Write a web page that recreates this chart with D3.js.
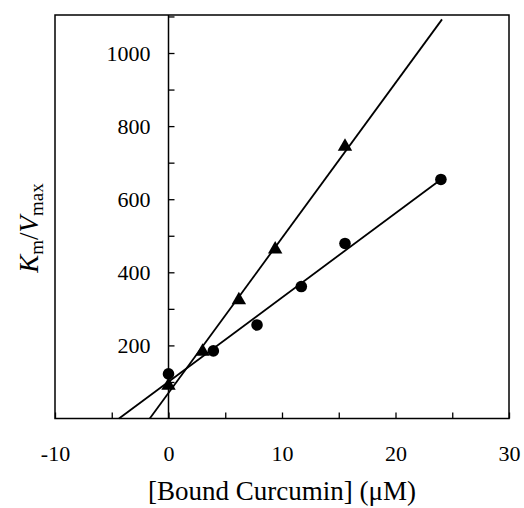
<!DOCTYPE html>
<html><head><meta charset="utf-8">
<script src="https://cdn.jsdelivr.net/npm/d3@7"></script>
<style>body{margin:0;background:#fff}svg{display:block}text{font-family:"Liberation Serif","Times New Roman",serif;fill:#000}</style>
</head><body>
<svg id="chart" width="524" height="508"></svg>
<script>
// Data
const triangleX = [0, 3.0, 6.2, 9.4, 15.55];
const triangleY = [90, 183, 324, 463, 744];
const circleX = [0, 3.95, 7.8, 11.7, 15.55, 24.0];
const circleY = [122, 185, 256, 361, 479, 654];
const triangleFitX = [-1.65, 24.1];
const triangleFitY = [0, 1092];
const circleFitX = [-4.36, 24.0];
const circleFitY = [0, 654];
const xTickValues = [-10, -5, 0, 5, 10, 15, 20, 25, 30];
const xTickLabels = [-10, 0, 10, 20, 30];
const yTickValues = [100, 200, 300, 400, 500, 600, 700, 800, 900, 1000, 1100];
const yTickLabels = [200, 400, 600, 800, 1000];

const svg = d3.select("#chart");
const L = 55, R = 509, T = 15, B = 418.5;
const x = d3.scaleLinear().domain([-10, 30]).range([L, R]);
const y = d3.scaleLinear().domain([0, 1104]).range([B, T]);

// frame
svg.append("rect").attr("x", L).attr("y", T).attr("width", R - L).attr("height", B - T)
  .attr("fill", "none").attr("stroke", "#000").attr("stroke-width", 1.5);

// x axis ticks (inside, pointing up)
const xAxis = d3.axisBottom(x).tickValues(xTickValues).tickSizeInner(-6).tickSizeOuter(0)
  .tickFormat(d => xTickLabels.includes(d) ? d : "");
const gx = svg.append("g").attr("transform", `translate(0,${B})`).call(xAxis);
gx.select(".domain").remove();
gx.selectAll(".tick line").attr("stroke-width", 1.3);
gx.selectAll(".tick text").attr("y", 27).attr("dy", "0.71em").style("font-size", "22px")
  .style("font-family", '"Liberation Serif", serif');

// y axis at x=0, ticks pointing right, labels left
const yAxis = d3.axisRight(y).tickValues(yTickValues).tickSizeInner(6).tickSizeOuter(0)
  .tickFormat(d => yTickLabels.includes(d) ? d : "");
const gy = svg.append("g").attr("transform", `translate(${x(0)},0)`).call(yAxis);
gy.select(".domain").attr("d", `M0,${B}V${T}`).attr("stroke-width", 1.5);
gy.selectAll(".tick line").attr("stroke-width", 1.3);
gy.selectAll(".tick text").attr("x", -18).attr("text-anchor", "end").style("font-size", "22px")
  .style("font-family", '"Liberation Serif", serif');

// fit lines
const line = d3.line().x(d => x(d[0])).y(d => y(d[1]));
svg.append("path").datum(d3.zip(triangleFitX, triangleFitY)).attr("d", line)
  .attr("fill", "none").attr("stroke", "#000").attr("stroke-width", 1.8);
svg.append("path").datum(d3.zip(circleFitX, circleFitY)).attr("d", line)
  .attr("fill", "none").attr("stroke", "#000").attr("stroke-width", 1.8);

// markers
svg.append("g").selectAll("circle").data(d3.zip(circleX, circleY)).join("circle")
  .attr("cx", d => x(d[0])).attr("cy", d => y(d[1])).attr("r", 5.8).attr("fill", "#000");
const tri = d3.symbol().type(d3.symbolTriangle).size(90);
svg.append("g").selectAll("path").data(d3.zip(triangleX, triangleY)).join("path")
  .attr("d", tri).attr("transform", d => `translate(${x(d[0])},${y(d[1])})`).attr("fill", "#000");

// x title
svg.append("text").attr("x", 282).attr("y", 500).attr("text-anchor", "middle")
  .style("font-size", "27px").text("[Bound Curcumin] (\u03bcM)");

// y title
const yt = svg.append("text").attr("transform", "translate(38,228) rotate(-90)")
  .attr("text-anchor", "middle").style("font-size", "27px");
yt.append("tspan").style("font-style", "italic").text("K");
yt.append("tspan").attr("dy", 5).style("font-size", "19px").text("m");
yt.append("tspan").attr("dy", -5).text("/");
yt.append("tspan").style("font-style", "italic").text("V");
yt.append("tspan").attr("dy", 5).style("font-size", "19px").text("max");
</script>
</body></html>
